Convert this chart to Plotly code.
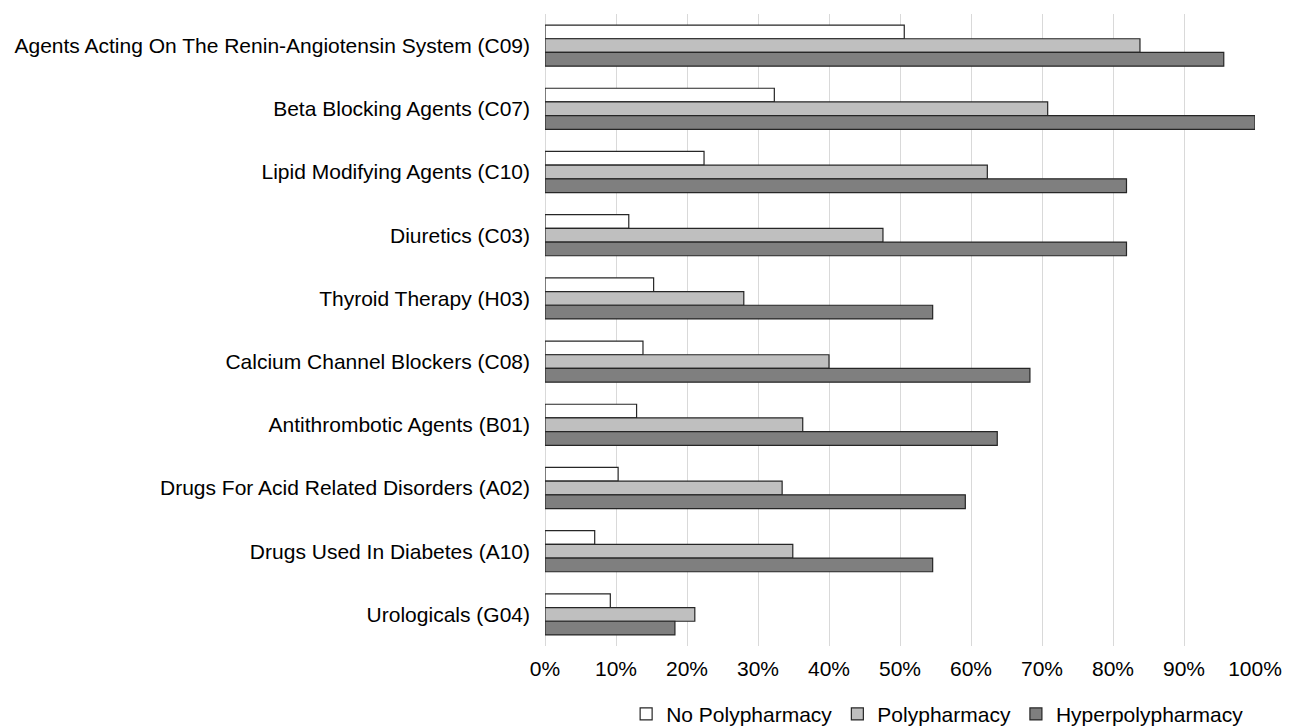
import plotly.graph_objects as go

categories = [
    "Agents Acting On The Renin-Angiotensin System (C09)",
    "Beta Blocking Agents (C07)",
    "Lipid Modifying Agents (C10)",
    "Diuretics (C03)",
    "Thyroid Therapy (H03)",
    "Calcium Channel Blockers (C08)",
    "Antithrombotic Agents (B01)",
    "Drugs For Acid Related Disorders (A02)",
    "Drugs Used In Diabetes (A10)",
    "Urologicals (G04)",
]

no_poly = [50.6, 32.3, 22.4, 11.8, 15.3, 13.8, 12.9, 10.3, 7.0, 9.2]
poly = [83.8, 70.8, 62.3, 47.6, 28.0, 40.0, 36.3, 33.4, 34.9, 21.1]
hyper = [95.6, 100.0, 81.9, 81.9, 54.6, 68.3, 63.7, 59.2, 54.6, 18.3]

x_ticks = list(range(0, 101, 10))
x_tick_text = [f"{v}%" for v in x_ticks]

series = [
    ("No Polypharmacy", no_poly, "#ffffff"),
    ("Polypharmacy", poly, "#bfbfbf"),
    ("Hyperpolypharmacy", hyper, "#7f7f7f"),
]

fig = go.Figure()
for name, vals, color in series:
    fig.add_trace(go.Bar(
        y=categories,
        x=vals,
        name=name,
        orientation="h",
        marker=dict(color=color, line=dict(color="#262626", width=1.2)),
    ))

fig.update_layout(
    width=1289,
    height=726,
    margin=dict(l=545, r=34, t=14, b=80, autoexpand=False),
    paper_bgcolor="white",
    plot_bgcolor="white",
    barmode="group",
    bargap=0.35,
    bargroupgap=0,
    font=dict(family="Liberation Sans, Arial, sans-serif", size=21, color="#000000"),
    xaxis=dict(
        range=[0, 100],
        tickvals=x_ticks,
        ticktext=x_tick_text,
        showgrid=True,
        gridcolor="#d9d9d9",
        gridwidth=1,
        zeroline=True,
        zerolinecolor="#d9d9d9",
        zerolinewidth=1,
        showline=False,
        ticks="",
        ticklabelstandoff=8,
        tickfont=dict(size=21),
    ),
    yaxis=dict(
        categoryorder="array",
        categoryarray=categories,
        autorange="reversed",
        showgrid=False,
        showline=False,
        ticks="",
        ticklabelstandoff=14,
        tickfont=dict(size=21),
    ),
    legend=dict(
        orientation="h",
        x=0.553,
        xanchor="center",
        y=-0.108,
        yanchor="middle",
        font=dict(size=21),
        itemwidth=30,
        tracegroupgap=0,
    ),
    showlegend=True,
)

fig.write_html("out.html")
